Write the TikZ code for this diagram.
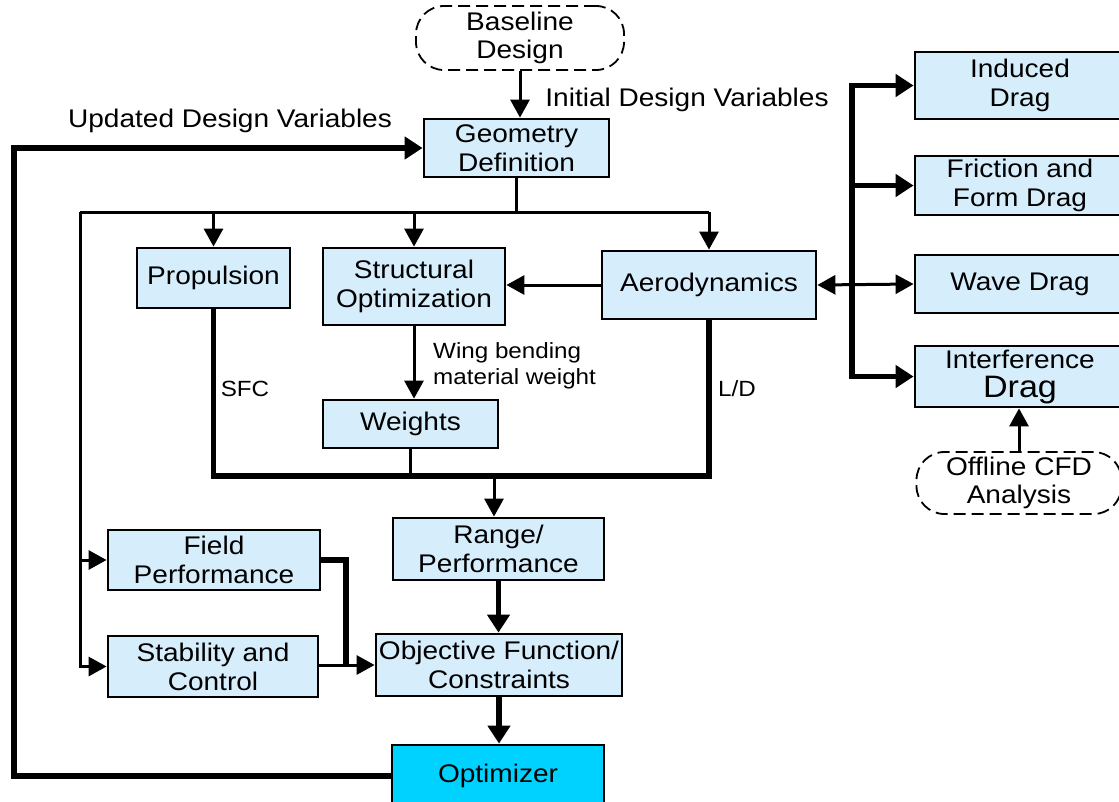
\documentclass[tikz,border=0pt]{standalone}
\usepackage{fontspec}
\setmainfont{Liberation Sans}[FakeStretch=1.1]
\usetikzlibrary{arrows.meta,calc}
\definecolor{boxblue}{RGB}{214,237,252}
\definecolor{optcyan}{RGB}{0,210,255}
\tikzset{
  box/.style={draw, line width=2.8pt, fill=boxblue, inner sep=0pt, align=center,
              font=\fontsize{25.5}{29}\selectfont},
  cloud/.style={draw, line width=1.8pt, dash pattern=on 12pt off 6pt, rounded corners=28pt,
              inner sep=0pt, align=center, font=\fontsize{25.5}{28}\selectfont},
  lbl/.style={font=\fontsize{25.5}{29}\selectfont, inner sep=0pt},
  small/.style={font=\fontsize{22}{26}\selectfont, inner sep=0pt, align=left},
  thin/.style={line width=3pt},
  arr/.style={line width=3pt, -{Triangle[length=18pt,width=19pt]}},
  thk/.style={line width=5.5pt},
  thkarr/.style={line width=5.5pt, -{Triangle[length=18pt,width=22pt]}},
}
\begin{document}
\begin{tikzpicture}[x=1pt,y=-1pt]
\useasboundingbox (0,0) rectangle (1119,801);
\fill[white] (0,0) rectangle (1119,801);

% nodes
\node[cloud, minimum width=208pt, minimum height=64pt] (base) at (520,38) {Baseline\\Design};
\node[box, minimum width=185pt, minimum height=58pt] (geo) at (516.5,148) {Geometry\\Definition};
\node[box, minimum width=153pt, minimum height=60pt] (prop) at (213.5,278) {Propulsion};
\node[box, minimum width=182pt, minimum height=77pt] (struct) at (414,286.5) {Structural\\Optimization};
\node[box, minimum width=214pt, minimum height=68pt] (aero) at (709,285) {Aerodynamics};
\node[box, minimum width=175pt, minimum height=48pt] (wts) at (410.5,424) {Weights};
\node[box, minimum width=211pt, minimum height=62pt] (range) at (498.5,549) {Range/\\Performance};
\node[box, minimum width=212pt, minimum height=60pt] (field) at (214,560) {Field\\Performance};
\node[box, minimum width=210pt, minimum height=61pt] (stab) at (213,666.5) {Stability and\\Control};
\node[box, minimum width=246pt, minimum height=62pt] (obj) at (499,665) {Objective Function/\\Constraints};
\node[box, fill=optcyan, minimum width=212pt, minimum height=62pt] (opt) at (498,776) {Optimizer};

\node[box, minimum width=210pt, minimum height=67pt] (ind) at (1020,85.5) {Induced\\Drag};
\node[box, minimum width=210pt, minimum height=59pt] (fric) at (1020,185.5) {Friction and\\Form Drag};
\node[box, minimum width=210pt, minimum height=58pt] (wave) at (1020,284) {Wave Drag};
\node[box, minimum width=210pt, minimum height=61pt] (intf) at (1020,376.5) {Interference\\{\fontsize{31}{31}\selectfont Drag}};
\node[cloud, minimum width=205pt, minimum height=62pt] (cfd) at (1019,483) {Offline CFD\\Analysis};

% labels
\node[lbl] (ldv) at (687,100) {Initial Design Variables};
\node[lbl] (udv) at (230,121) {Updated Design Variables};
\node[small, anchor=west] (wing) at (433,366) {Wing bending\\material weight};
\node[small] (sfc) at (245,389) {SFC};
\node[small] (ld) at (737,389) {L/D};

% coordinates
\coordinate (fbl) at (14,776);
\coordinate (bl) at (80,212);
\coordinate (bb) at (494,476);
\coordinate (fj) at (346,665);
\coordinate (rb) at (852,230);

% connectors
\draw[arr] (base.south) -- (base.south |- geo.north);
\draw[thkarr] (opt.west) -- (fbl) |- (geo.west);
\draw[thin] (geo.south) -- (geo.south |- bl);
\draw[thin] (bl) -- (aero.north |- bl);
\draw[arr] (prop.north |- bl) -- (prop.north);
\draw[arr] (struct.north |- bl) -- (struct.north);
\draw[arr] (aero.north |- bl) -- (aero.north);
\draw[arr] (bl) |- (stab.west);
\draw[arr] (bl |- field.west) -- (field.west);
\draw[arr] (aero.west) -- (aero.west -| struct.east);
\draw[arr] (struct.south) -- (struct.south |- wts.north);
\draw[thk] (prop.south) |- (aero.south |- bb) -- (aero.south);
\draw[thin] (wts.south) -- (wts.south |- bb);
\draw[arr] (bb) -- (bb |- range.north);
\draw[thkarr] (range.south) -- (range.south |- obj.north);
\draw[thk] (field.east) -| (fj);
\draw[arr] (stab.east |- fj) -- (obj.west |- fj);
\draw[thkarr] (obj.south) -- (obj.south |- opt.north);
% right side
\draw[line width=3pt, {Triangle[length=18pt,width=19pt]}-{Triangle[length=18pt,width=19pt]}] (aero.east) -- (wave.west);
\draw[thk, {Triangle[length=18pt,width=22pt]}-{Triangle[length=18pt,width=22pt]}] (ind.west) -| (rb) |- (intf.west);
\draw[thkarr] (rb |- fric.west) -- (fric.west);
\draw[arr] (cfd.north) -- (cfd.north |- intf.south);
\end{tikzpicture}
\end{document}
